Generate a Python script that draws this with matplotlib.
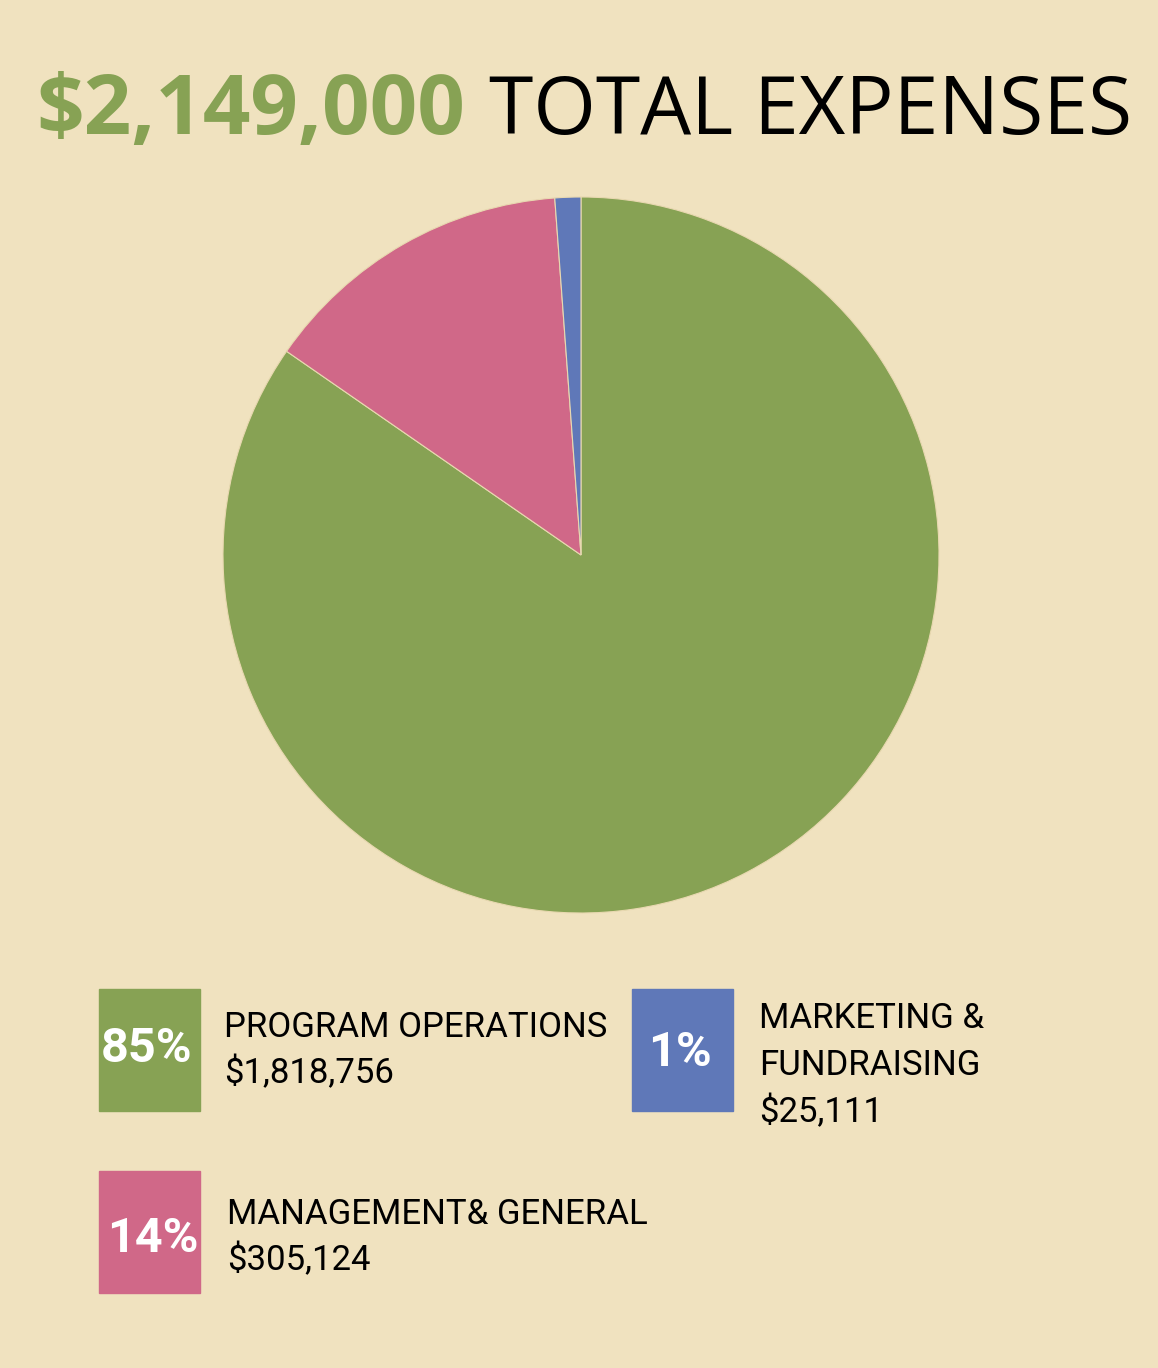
import matplotlib.pyplot as plt
import matplotlib.patches as mpatches

# data
labels = [['PROGRAM OPERATIONS'], ['MANAGEMENT& GENERAL'], ['MARKETING &', 'FUNDRAISING']]
amounts = [1818756, 305124, 25111]
pct_labels = ['85%', '14%', '1%']
amount_labels = ['$1,818,756', '$305,124', '$25,111']
total_label = '$2,149,000'

BG = '#F0E2BF'
colors = ['#87A254', '#D06888', '#5F78B8']

W, H = 1158, 1368
fig = plt.figure(figsize=(W / 100, H / 100), dpi=100, facecolor=BG)

# overlay axes in pixel coords for text and legend boxes
ax = fig.add_axes([0, 0, 1, 1])
ax.set_xlim(0, W)
ax.set_ylim(H, 0)
ax.axis('off')

# title
ax.text(36, 134, total_label, color='#87A254', fontsize=60, fontweight='bold',
        family='Open Sans', va='baseline', ha='left')
ax.text(489, 134, 'TOTAL EXPENSES', color='black', fontsize=58,
        family='Open Sans', va='baseline', ha='left')

# pie
cx, cy, r = 581, 555, 358
pax = fig.add_axes([(cx - r) / W, (H - cy - r) / H, 2 * r / W, 2 * r / H])
pax.pie(amounts, colors=colors, startangle=90, counterclock=False,
        wedgeprops=dict(edgecolor='#E8D8B0', linewidth=0.8))
pax.set_xlim(-1, 1)
pax.set_ylim(-1, 1)
pax.set_aspect('equal')
pax.axis('off')

# legend boxes
boxes = [(99, 989), (99, 1171), (632, 989)]
pct_pos = [(147, 1062), (153, 1252), (680, 1066)]
text_x = [224, 227, 759]
text_base = [[1037, 1083], [1224, 1270], [1028, 1075, 1122]]
for i in range(3):
    bx, by = boxes[i]
    ax.add_patch(mpatches.Rectangle((bx, by), 101, 122, color=colors[i]))
    px, py = pct_pos[i]
    ax.text(px, py, pct_labels[i], color='white', fontsize=35, fontweight='bold',
            family='Roboto', ha='center', va='baseline')
    lines = labels[i] + [amount_labels[i]]
    for line, yb in zip(lines, text_base[i]):
        ax.text(text_x[i], yb, line, color='black', fontsize=25, family='Roboto',
                ha='left', va='baseline')

fig.savefig('out.png', dpi=100, facecolor=BG)
